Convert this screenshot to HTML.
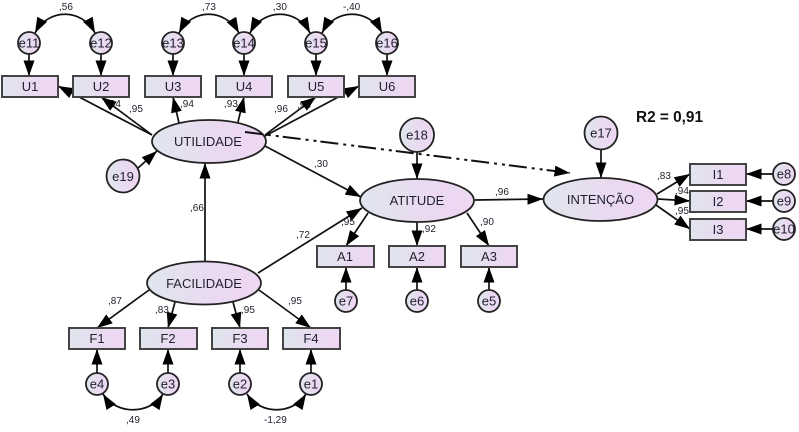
<!DOCTYPE html>
<html>
<head>
<meta charset="utf-8">
<style>
html,body{margin:0;padding:0;background:#fff;width:799px;height:432px;overflow:hidden}
svg{display:block}
.l{stroke:#111;stroke-width:1.7;fill:none;marker-end:url(#a)}
.c{stroke:#111;stroke-width:1.7;fill:none;marker-end:url(#a);marker-start:url(#a)}
.s{fill:url(#g);stroke:#222;stroke-width:1.8}
.s2{fill:url(#g);stroke:#444;stroke-width:2}
text{font-family:"Liberation Sans",sans-serif;fill:#22222f}
.t{font-size:13px;text-anchor:middle}
.n{font-size:10px}
</style>
</head>
<body>
<svg width="799" height="432" viewBox="0 0 799 432" xmlns="http://www.w3.org/2000/svg">
<defs>
<linearGradient id="g" x1="0" y1="0" x2="1" y2="0"><stop offset="0" stop-color="#dfe6ee"/><stop offset="0.6" stop-color="#ead9f0"/><stop offset="1" stop-color="#eed8f3"/></linearGradient>
<marker id="a" markerUnits="userSpaceOnUse" markerWidth="17" markerHeight="12" refX="15.500" refY="5.500" orient="auto-start-reverse"><path d="M0,0 L15.500,5.500 L0,11 z" fill="#000"/></marker>
</defs>

<text class="n" x="107" y="107">,94</text>
<text class="n" x="297" y="108">,96</text>

<!-- structural lines -->
<g>
<line class="l" x1="152" y1="135" x2="58" y2="86"/>
<line class="l" x1="152" y1="135" x2="101" y2="97"/>
<line class="l" x1="179" y1="123" x2="173" y2="97"/>
<line class="l" x1="238" y1="122" x2="244" y2="97"/>
<line class="l" x1="265" y1="135" x2="316" y2="97"/>
<line class="l" x1="265" y1="136" x2="359" y2="86"/>
<line class="l" x1="138" y1="168" x2="157" y2="151"/>
<line class="l" x1="205" y1="262" x2="205" y2="163"/>
<line class="l" x1="265" y1="146" x2="361" y2="197"/>
<line class="l" x1="258" y1="273" x2="362" y2="208"/>
<line class="l" x1="417" y1="150" x2="417" y2="179"/>
<line class="l" x1="475" y1="200" x2="543" y2="199"/>
<line class="l" x1="601" y1="149" x2="601" y2="178"/>
<line class="l" x1="657" y1="194" x2="690" y2="174"/>
<line class="l" x1="658" y1="199" x2="690" y2="201"/>
<line class="l" x1="656" y1="205" x2="690" y2="229"/>
<line class="l" x1="774" y1="174" x2="746" y2="174"/>
<line class="l" x1="774" y1="201" x2="746" y2="201"/>
<line class="l" x1="774" y1="229" x2="746" y2="229"/>
<line class="l" x1="368" y1="213" x2="346" y2="246"/>
<line class="l" x1="417" y1="222" x2="417" y2="246"/>
<line class="l" x1="467" y1="213" x2="489" y2="246"/>
<line class="l" x1="346" y1="290" x2="346" y2="267"/>
<line class="l" x1="417" y1="290" x2="417" y2="267"/>
<line class="l" x1="489" y1="290" x2="489" y2="267"/>
<line class="l" x1="149" y1="290" x2="97" y2="328"/>
<line class="l" x1="175" y1="302" x2="168" y2="328"/>
<line class="l" x1="233" y1="302" x2="240" y2="328"/>
<line class="l" x1="259" y1="290" x2="311" y2="328"/>
<line class="l" x1="97" y1="373" x2="97" y2="349"/>
<line class="l" x1="168" y1="373" x2="168" y2="349"/>
<line class="l" x1="240" y1="373" x2="240" y2="349"/>
<line class="l" x1="311" y1="373" x2="311" y2="349"/>
<line class="l" x1="29" y1="54" x2="29" y2="76"/>
<line class="l" x1="101" y1="54" x2="101" y2="76"/>
<line class="l" x1="173" y1="54" x2="173" y2="76"/>
<line class="l" x1="244" y1="54" x2="244" y2="76"/>
<line class="l" x1="316" y1="54" x2="316" y2="76"/>
<line class="l" x1="387" y1="54" x2="387" y2="76"/>
<path class="c" d="M35,33 C48,8 82,8 95,33"/>
<path class="c" d="M179,33 C192,8 225,8 239,33"/>
<path class="c" d="M250,33 C263,8 297,8 310,33"/>
<path class="c" d="M322,33 C335,8 369,8 382,33"/>
<path class="c" d="M103,394 C116,415 150,415 163,394"/>
<path class="c" d="M247,394 C260,415 293,415 306,394"/>
</g>

<!-- rectangles -->
<g class="s2">
<rect x="2" y="76" width="56" height="21"/>
<rect x="73" y="76" width="56" height="21"/>
<rect x="145" y="76" width="56" height="21"/>
<rect x="216" y="76" width="56" height="21"/>
<rect x="288" y="76" width="56" height="21"/>
<rect x="359" y="76" width="56" height="21"/>
<rect x="690" y="164" width="56" height="21"/>
<rect x="690" y="191" width="56" height="21"/>
<rect x="690" y="219" width="56" height="21"/>
<rect x="317" y="246" width="57" height="21"/>
<rect x="389" y="246" width="56" height="21"/>
<rect x="461" y="246" width="56" height="21"/>
<rect x="69" y="328" width="56" height="21"/>
<rect x="140" y="328" width="57" height="21"/>
<rect x="212" y="328" width="56" height="21"/>
<rect x="283" y="328" width="57" height="21"/>
</g>

<!-- ellipses and circles -->
<g class="s">
<ellipse cx="209" cy="141.500" rx="57" ry="21.500"/>
<ellipse cx="417" cy="200.500" rx="57" ry="21.500"/>
<ellipse cx="600.500" cy="199.500" rx="57" ry="21.500"/>
<ellipse cx="204" cy="283" rx="57" ry="21.500"/>
<circle cx="123" cy="176" r="16.500"/>
<circle cx="417" cy="135" r="17"/>
<circle cx="601" cy="133" r="16.500"/>
<circle cx="29" cy="43" r="11"/>
<circle cx="101" cy="43" r="11"/>
<circle cx="173" cy="43" r="11"/>
<circle cx="244" cy="43" r="11"/>
<circle cx="316" cy="43" r="11"/>
<circle cx="387" cy="43" r="11"/>
<circle cx="784" cy="174" r="11"/>
<circle cx="784" cy="201" r="11"/>
<circle cx="784" cy="229" r="11"/>
<circle cx="346" cy="301" r="11"/>
<circle cx="417" cy="301" r="11"/>
<circle cx="489" cy="301" r="11"/>
<circle cx="97" cy="384" r="11"/>
<circle cx="168" cy="384" r="11"/>
<circle cx="240" cy="384" r="11"/>
<circle cx="311" cy="384" r="11"/>
</g>

<!-- dash-dot arrow -->
<line x1="245" y1="132" x2="570" y2="173" stroke="#111" stroke-width="2" stroke-dasharray="18 5 3 5 3 4" marker-end="url(#a)"/>

<!-- node labels -->
<text class="t" x="29" y="47.500">e11</text>
<text class="t" x="101" y="47.500">e12</text>
<text class="t" x="173" y="47.500">e13</text>
<text class="t" x="244" y="47.500">e14</text>
<text class="t" x="316" y="47.500">e15</text>
<text class="t" x="387" y="47.500">e16</text>
<text class="t" x="30" y="91">U1</text>
<text class="t" x="101" y="91">U2</text>
<text class="t" x="173" y="91">U3</text>
<text class="t" x="244" y="91">U4</text>
<text class="t" x="316" y="91">U5</text>
<text class="t" x="387" y="91">U6</text>
<text class="t" x="208" y="146">UTILIDADE</text>
<text class="t" x="123" y="181">e19</text>
<text class="t" x="417" y="139.500">e18</text>
<text class="t" x="417" y="205">ATITUDE</text>
<text class="t" x="601" y="137.500">e17</text>
<text class="t" x="600.500" y="204">INTENÇÃO</text>
<text class="t" x="718" y="179">I1</text>
<text class="t" x="718" y="206">I2</text>
<text class="t" x="718" y="234">I3</text>
<text class="t" x="784" y="178.500">e8</text>
<text class="t" x="784" y="205.500">e9</text>
<text class="t" x="784" y="233.500">e10</text>
<text class="t" x="345" y="261">A1</text>
<text class="t" x="417" y="261">A2</text>
<text class="t" x="489" y="261">A3</text>
<text class="t" x="346" y="305.500">e7</text>
<text class="t" x="417" y="305.500">e6</text>
<text class="t" x="489" y="305.500">e5</text>
<text class="t" x="204" y="288">FACILIDADE</text>
<text class="t" x="97" y="343">F1</text>
<text class="t" x="168" y="343">F2</text>
<text class="t" x="240" y="343">F3</text>
<text class="t" x="311" y="343">F4</text>
<text class="t" x="97" y="388.500">e4</text>
<text class="t" x="168" y="388.500">e3</text>
<text class="t" x="240" y="388.500">e2</text>
<text class="t" x="311" y="388.500">e1</text>

<!-- coefficient labels -->
<text class="n" x="59" y="10">,56</text>
<text class="n" x="202" y="10">,73</text>
<text class="n" x="273" y="10">,30</text>
<text class="n" x="343" y="10">-,40</text>
<text class="n" x="129" y="112">,95</text>
<text class="n" x="180" y="107">,94</text>
<text class="n" x="224" y="107">,93</text>
<text class="n" x="274" y="112">,96</text>
<text class="n" x="314" y="167">,30</text>
<text class="n" x="190" y="211">,66</text>
<text class="n" x="296" y="238">,72</text>
<text class="n" x="495" y="195">,96</text>
<text class="n" x="341" y="225">,95</text>
<text class="n" x="422" y="232">,92</text>
<text class="n" x="480" y="225">,90</text>
<text class="n" x="657" y="179">,83</text>
<text class="n" x="675" y="194">,94</text>
<text class="n" x="675" y="214">,95</text>
<text class="n" x="108" y="304">,87</text>
<text class="n" x="155" y="313">,83</text>
<text class="n" x="241" y="313">,95</text>
<text class="n" x="288" y="304">,95</text>
<text class="n" x="126" y="423">,49</text>
<text class="n" x="264" y="423">-1,29</text>

<text x="636" y="122" font-size="16" font-weight="bold" style="fill:#111" textLength="67" lengthAdjust="spacingAndGlyphs">R2 = 0,91</text>
</svg>
</body>
</html>
